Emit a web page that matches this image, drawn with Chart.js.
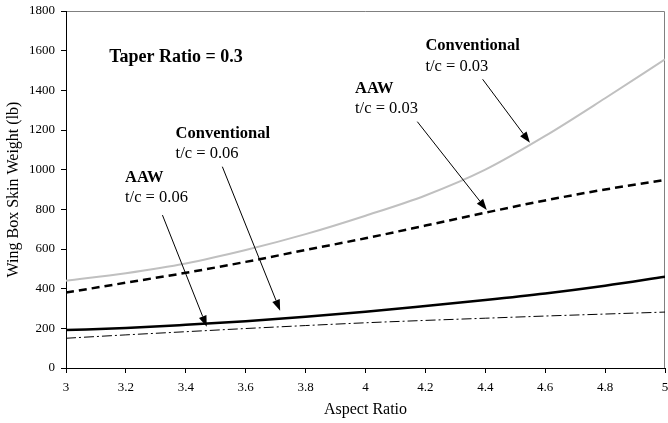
<!DOCTYPE html>
<html>
<head>
<meta charset="utf-8">
<script src="https://cdn.jsdelivr.net/npm/chart.js@4.4.1/dist/chart.umd.min.js"></script>
<style>
  html, body { margin: 0; padding: 0; background: #ffffff; }
  #wrap { width: 668px; height: 423px; position: relative; }
</style>
</head>
<body>
<div id="wrap"><canvas id="c" width="668" height="423"></canvas></div>
<script>
// ---- data ----
const aspectRatio = [3.0, 3.2, 3.4, 3.6, 3.8, 4.0, 4.2, 4.4, 4.6, 4.8, 5.0];
const convTc003 = [440, 478, 527, 595, 675, 768, 870, 1000, 1170, 1360, 1556];
const aawTc003  = [380, 430, 480, 535, 595, 654, 718, 783, 845, 900, 948];
const convTc006 = [191, 202, 218, 236, 258, 284, 313, 343, 376, 415, 460];
const aawTc006  = [150, 167, 183, 199, 214, 228, 240, 251, 262, 272, 282];
const xTickLabels = ["3", "3.2", "3.4", "3.6", "3.8", "4", "4.2", "4.4", "4.6", "4.8", "5"];
const yTickLabels = ["0", "200", "400", "600", "800", "1000", "1200", "1400", "1600", "1800"];
const xTitle = "Aspect Ratio";
const yTitle = "Wing Box Skin Weight (lb)";
const noteTitle = "Taper Ratio = 0.3";
// annotation labels: bold line, normal line; text anchors and arrows in data units
const noteLabels = [
  ["Conventional", "t/c = 0.03"],
  ["AAW", "t/c = 0.03"],
  ["Conventional", "t/c = 0.06"],
  ["AAW", "t/c = 0.06"]
];
const noteTextAt = [[4.20, 1625, 1519], [3.965, 1407, 1306], [3.366, 1180, 1079], [3.197, 958, 857]];
const noteArrowFrom = [[4.391, 1456], [4.173, 1242], [3.522, 1015], [3.322, 771]];
const noteArrowTo   = [[4.549, 1136], [4.405, 797], [3.715, 289], [3.47, 208]];
const noteTitleAt = [3.144, 1564];

const pts = (ys) => aspectRatio.map((x, i) => ({ x: x, y: ys[i] }));

const SERIF = '"Liberation Serif", "Times New Roman", serif';

const annotate = {
  id: 'annotate',
  beforeDraw(chart) {
    const { ctx, chartArea: a } = chart;
    ctx.save();
    ctx.strokeStyle = '#808080';
    ctx.lineWidth = 1;
    ctx.beginPath();
    ctx.moveTo(a.left, a.top + 0.5);
    ctx.lineTo(a.right - 0.5, a.top + 0.5);
    ctx.lineTo(a.right - 0.5, a.bottom);
    ctx.stroke();
    ctx.restore();
  },
  afterDatasetsDraw(chart) {
    const { ctx } = chart;
    const xs = chart.scales.x, ys = chart.scales.y;
    const px = (v) => xs.getPixelForValue(v), py = (v) => ys.getPixelForValue(v);
    ctx.save();
    ctx.fillStyle = '#000';
    ctx.textBaseline = 'middle';
    ctx.textAlign = 'left';
    ctx.font = 'bold 18px ' + SERIF;
    ctx.fillText(noteTitle, px(noteTitleAt[0]), py(noteTitleAt[1]));
    noteLabels.forEach((lab, i) => {
      const t = noteTextAt[i];
      ctx.font = 'bold 16.5px ' + SERIF;
      ctx.fillText(lab[0], px(t[0]), py(t[1]));
      ctx.font = '16.5px ' + SERIF;
      ctx.fillText(lab[1], px(t[0]), py(t[2]));
      // arrow
      const x1 = px(noteArrowFrom[i][0]), y1 = py(noteArrowFrom[i][1]);
      const x2 = px(noteArrowTo[i][0]), y2 = py(noteArrowTo[i][1]);
      const ang = Math.atan2(y2 - y1, x2 - x1);
      const hl = 11, hw = 4;
      const bx = x2 - hl * Math.cos(ang), by = y2 - hl * Math.sin(ang);
      ctx.strokeStyle = '#000';
      ctx.lineWidth = 1;
      ctx.beginPath();
      ctx.moveTo(x1, y1);
      ctx.lineTo(bx, by);
      ctx.stroke();
      ctx.beginPath();
      ctx.moveTo(x2, y2);
      ctx.lineTo(bx + hw * Math.sin(ang), by - hw * Math.cos(ang));
      ctx.lineTo(bx - hw * Math.sin(ang), by + hw * Math.cos(ang));
      ctx.closePath();
      ctx.fill();
    });
    ctx.restore();
  }
};

new Chart(document.getElementById('c'), {
  type: 'line',
  data: {
    datasets: [
      { label: 'Conventional t/c = 0.03', data: pts(convTc003), borderColor: '#c0c0c0', borderWidth: 2, pointRadius: 0, cubicInterpolationMode: 'monotone', fill: false },
      { label: 'AAW t/c = 0.03', data: pts(aawTc003), borderColor: '#000000', borderWidth: 2.5, borderDash: [8, 5], pointRadius: 0, cubicInterpolationMode: 'monotone', fill: false },
      { label: 'Conventional t/c = 0.06', data: pts(convTc006), borderColor: '#000000', borderWidth: 2.5, pointRadius: 0, cubicInterpolationMode: 'monotone', fill: false },
      { label: 'AAW t/c = 0.06', data: pts(aawTc006), borderColor: '#000000', borderWidth: 1, borderDash: [10, 3, 2, 3], pointRadius: 0, cubicInterpolationMode: 'monotone', fill: false }
    ]
  },
  options: {
    responsive: false,
    animation: false,
    layout: { padding: { left: 0, right: 3, top: 11, bottom: 0 } },
    plugins: { legend: { display: false }, tooltip: { enabled: false } },
    scales: {
      x: {
        type: 'linear', min: 3, max: 5,
        afterFit: (s) => { s.height = 55; s.paddingLeft = 0; s.paddingRight = 0; },
        ticks: {
          stepSize: 0.2, color: '#000', padding: 7,
          font: { family: SERIF, size: 13 },
          callback: (v) => xTickLabels[Math.round((v - 3) / 0.2)]
        },
        grid: { drawOnChartArea: false, drawTicks: true, tickLength: 5, color: '#000' },
        border: { display: true, color: '#000', width: 1 },
        title: { display: true, text: xTitle, color: '#000', font: { family: SERIF, size: 16 }, padding: { top: 4, bottom: 4 } }
      },
      y: {
        min: 0, max: 1800,
        afterFit: (s) => { s.width = 66; s.paddingTop = 0; s.paddingBottom = 0; },
        ticks: {
          stepSize: 200, color: '#000', padding: 6,
          font: { family: SERIF, size: 13 },
          callback: (v) => yTickLabels[Math.round(v / 200)]
        },
        grid: { drawOnChartArea: false, drawTicks: true, tickLength: 5, color: '#000' },
        border: { display: true, color: '#000', width: 1 },
        title: { display: true, text: yTitle, color: '#000', font: { family: SERIF, size: 16 }, padding: { top: 4, bottom: 4 } }
      }
    }
  },
  plugins: [annotate]
});
</script>
</body>
</html>
